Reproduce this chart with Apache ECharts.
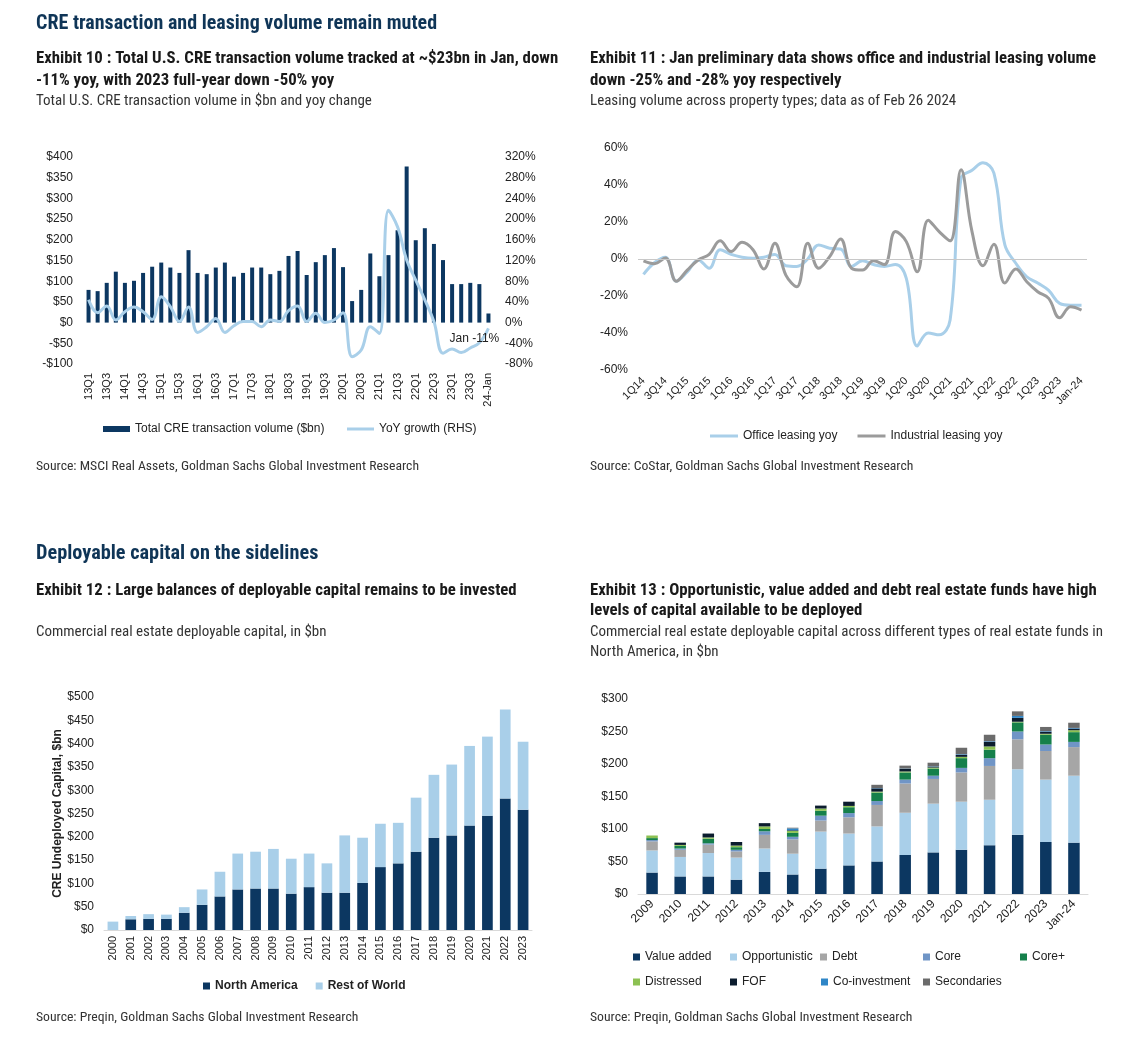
<!DOCTYPE html>
<html><head><meta charset="utf-8">
<script src="https://cdn.jsdelivr.net/npm/echarts@6/dist/echarts.min.js"></script>
<style>html,body{margin:0;padding:0;background:#fff}#c{width:1126px;height:1052px}</style>
</head><body><div id="c"></div><script>
// ---------- Exhibit 10 ----------
var cats10 = ['13Q1','13Q2','13Q3','13Q4','14Q1','14Q2','14Q3','14Q4','15Q1','15Q2','15Q3','15Q4','16Q1','16Q2','16Q3','16Q4','17Q1','17Q2','17Q3','17Q4','18Q1','18Q2','18Q3','18Q4','19Q1','19Q2','19Q3','19Q4','20Q1','20Q2','20Q3','20Q4','21Q1','21Q2','21Q3','21Q4','22Q1','22Q2','22Q3','22Q4','23Q1','23Q2','23Q3','23Q4','24-Jan'];
var volume10 = [79,76,96,123,96,101,120,135,145,133,120,175,120,117,133,145,111,120,133,133,117,125,161,173,115,146,163,180,134,52,79,167,112,163,223,377,199,228,190,151,93,93,96,93,22];
var yoy10 = [44,19,32,5,21,30,21,6,50,31,2,30,-19,-8,8,-19,-6,2,2,-8,5,2,23,32,2,18,0,5,19,-66,-53,-8,-21,217,185,121,82,44,2,-59,-51,-58,-49,-39,-11];

// ---------- Exhibit 11 ----------
var cats11 = ['1Q14','2Q14','3Q14','4Q14','1Q15','2Q15','3Q15','4Q15','1Q16','2Q16','3Q16','4Q16','1Q17','2Q17','3Q17','4Q17','1Q18','2Q18','3Q18','4Q18','1Q19','2Q19','3Q19','4Q19','1Q20','2Q20','3Q20','4Q20','1Q21','2Q21','3Q21','4Q21','1Q22','2Q22','3Q22','4Q22','1Q23','2Q23','3Q23','4Q23','Jan-24'];
var office11 = [-8.3,-2,1,-12,-7,-0.5,-5,5,2.5,1,0.4,1,2.5,-3.6,-4,0,7.6,5.8,5.4,-4,-1,-3,-4,-3,-10.5,-47,-40,-41,-33,43.7,48,52,46.4,7.6,-2.3,-9.6,-13,-17,-24,-25,-25];
var industrial11 = [-1,-2.5,0.5,-12,-6,-0.5,2.5,9.8,4,9,5,-5.4,8.5,-8.7,-15,8.5,-5,1.3,10.8,-5,-6,-1,-3,14.8,9.4,-6.9,21,14.8,9.8,48.3,14.8,-3.6,8,-13,-5.4,-12.3,-17.7,-21.3,-31.8,-25.8,-27.6];

// ---------- Exhibit 12 ----------
var years12 = ['2000','2001','2002','2003','2004','2005','2006','2007','2008','2009','2010','2011','2012','2013','2014','2015','2016','2017','2018','2019','2020','2021','2022','2023'];
var northAmerica12 = [0,23,24,24,37,54,72,87,89,89,78,92,80,80,101,135,143,168,198,203,224,245,282,258];
var restOfWorld12 = [18,7,10,9,12,33,53,77,79,85,75,72,63,123,97,93,87,116,135,152,171,170,191,146];

// ---------- Exhibit 13 ----------
var cats13 = ['2009','2010','2011','2012','2013','2014','2015','2016','2017','2018','2019','2020','2021','2022','2023','Jan-24'];
var valueAdded13 = [33,27,27,22,34,30,39,44,50,60,64,68,75,91,80,79];
var opportunistic13 = [34,30,36,34,36,32,57,49,54,65,75,74,70,101,96,103];
var debt13 = [14,11,13,9.5,21,22,17,25,33,45,38,45,52,46,44,44];
var core13 = [2,2,2,2.5,5.5,4,7.5,6.5,6,6,5,7,12,12,10,8];
var corePlus13 = [3,4,7,4,3.5,6,7.5,9,13,11,11,15,13,14,15,15];
var distressed13 = [4,1.5,2,2.5,4,3,3.5,2,1.5,1.5,1.5,2,5,1,1.5,3];
var fof13 = [0,3.5,6,5.5,5,1,4.5,6.5,5,4,1.5,3,7,6,3,2.5];
var coInvestment13 = [0,0,0,0,0,3,0,0,0.5,0.5,0.5,1,1,3,1,1];
var secondaries13 = [0,0,0,0,0,1,0,0,5,4.5,5.5,10,10,7,6.5,8];

var NAR = "'Liberation Sans Narrow','Roboto Condensed','DejaVu Sans Condensed',sans-serif";
var AX = "'Liberation Sans',Arial,sans-serif";
var NAVY = '#0c3761', LBLUE = '#a9cfe9', GRAY = '#9b9b9b';

function txt(x, base, s, fs, bold, color) {
  return {type:'text', x:x, y: base - 0.36*fs, silent:true,
    style:{text:s, fontFamily:NAR, fontSize:fs, fontWeight: bold?'bold':'normal', fill:color, verticalAlign:'middle', align:'left'}};
}
var H = '#0f3557', T = '#1a1a1a', S = '#333333';
var TB = 16.8, TS = 15, TSRC = 13.7;
var graphics = [
  txt(36,31,'CRE transaction and leasing volume remain muted',20,true,H),
  txt(36,65,'Exhibit 10 : Total U.S. CRE transaction volume tracked at ~$23bn in Jan, down',TB,true,T),
  txt(36,87,'-11% yoy, with 2023 full-year down -50% yoy',TB,true,T),
  txt(36,107,'Total U.S. CRE transaction volume in $bn and yoy change',TS,false,S),
  txt(590,65,'Exhibit 11 : Jan preliminary data shows office and industrial leasing volume',TB,true,T),
  txt(590,87,'down -25% and -28% yoy respectively',TB,true,T),
  txt(590,107,'Leasing volume across property types; data as of Feb 26 2024',TS,false,S),
  txt(36,472,'Source: MSCI Real Assets, Goldman Sachs Global Investment Research',TSRC,false,S),
  txt(590,472,'Source: CoStar, Goldman Sachs Global Investment Research',TSRC,false,S),
  txt(36,561,'Deployable capital on the sidelines',20.3,true,H),
  txt(36,597,'Exhibit 12 : Large balances of deployable capital remains to be invested',TB,true,T),
  txt(36,638,'Commercial real estate deployable capital, in $bn',TS,false,S),
  txt(590,597,'Exhibit 13 : Opportunistic, value added and debt real estate funds have high',TB,true,T),
  txt(590,617,'levels of capital available to be deployed',TB,true,T),
  txt(590,638,'Commercial real estate deployable capital across different types of real estate funds in',TS,false,S),
  txt(590,658,'North America, in $bn',TS,false,S),
  txt(36,1023,'Source: Preqin, Goldman Sachs Global Investment Research',TSRC,false,S),
  txt(590,1023,'Source: Preqin, Goldman Sachs Global Investment Research',TSRC,false,S)
];

var lab = {fontFamily:AX, fontSize:12, color:'#222'};
var legText = {fontFamily:AX, fontSize:12, color:'#222'};
function dollar(v){ return v<0 ? '-$'+Math.abs(v) : '$'+v; }

var s13 = [
  ['Value added', valueAdded13, NAVY],
  ['Opportunistic', opportunistic13, LBLUE],
  ['Debt', debt13, '#a6a6a6'],
  ['Core', core13, '#7095c6'],
  ['Core+', corePlus13, '#15804b'],
  ['Distressed', distressed13, '#8cc152'],
  ['FOF', fof13, '#0b1c2e'],
  ['Co-investment', coInvestment13, '#2f86c7'],
  ['Secondaries', secondaries13, '#6b6b6b']
];
var legPos13 = [[628,946],[725,946],[815,946],[918,946],[1015,946],[628,971],[725,971],[816,971],[918,971]];

var legends = [
  {data:[{name:'Total CRE transaction volume ($bn)', icon:'rect'}],
   left:98, top:418, itemWidth:27, itemHeight:6, textStyle:legText},
  {data:[{name:'YoY growth (RHS)', icon:'rect'}],
   left:342, top:418, itemWidth:27, itemHeight:3, textStyle:legText},
  {data:[{name:'Office leasing yoy',icon:'rect'},{name:'Industrial leasing yoy',icon:'rect'}], left:705, top:425, itemWidth:28, itemHeight:3, itemGap:20,
   textStyle:legText},
  {data:[{name:'North America',icon:'rect'},{name:'Rest of World',icon:'rect'}], left:198, top:975, itemWidth:7, itemHeight:7, itemGap:18,
   textStyle:{fontFamily:AX,fontSize:12,color:'#222',fontWeight:'bold'}}
];
s13.forEach(function(s,i){
  legends.push({data:[{name:s[0],icon:'rect'}], left:legPos13[i][0], top:legPos13[i][1], itemWidth:7, itemHeight:7,
    textStyle:legText});
});

var series = [
  {type:'bar', name:'Total CRE transaction volume ($bn)', xAxisIndex:0, yAxisIndex:0, data:volume10, barWidth:4, itemStyle:{color:NAVY}},
  {type:'line', name:'YoY growth (RHS)', xAxisIndex:0, yAxisIndex:1, data:yoy10, smooth:0.4, symbol:'none',
   lineStyle:{width:3, color:LBLUE}, itemStyle:{color:LBLUE},
   endLabel:{show:true, formatter:'Jan -11%', offset:[-47,10], fontFamily:AX, fontSize:12, color:'#222'}},
  {type:'line', name:'Office leasing yoy', xAxisIndex:1, yAxisIndex:2, data:office11, smooth:0.4, symbol:'none',
   lineStyle:{width:3, color:LBLUE}, itemStyle:{color:LBLUE},
   markLine:{silent:true, symbol:'none', label:{show:false}, lineStyle:{color:'#c8c8c8', width:1, type:'solid'}, data:[{yAxis:0}]}},
  {type:'line', name:'Industrial leasing yoy', xAxisIndex:1, yAxisIndex:2, data:industrial11, smooth:0.4, symbol:'none',
   lineStyle:{width:3, color:GRAY}, itemStyle:{color:GRAY}},
  {type:'bar', name:'North America', stack:'a', xAxisIndex:2, yAxisIndex:3, data:northAmerica12, barWidth:'60%', itemStyle:{color:NAVY}},
  {type:'bar', name:'Rest of World', stack:'a', xAxisIndex:2, yAxisIndex:3, data:restOfWorld12, barWidth:'60%', itemStyle:{color:LBLUE}}
];
s13.forEach(function(s){
  series.push({type:'bar', name:s[0], stack:'b', xAxisIndex:3, yAxisIndex:4, data:s[1], barWidth:11.5, itemStyle:{color:s[2]}});
});

var chart = echarts.init(document.getElementById('c'), null, {renderer:'canvas'});
chart.setOption({
  animation:false,
  backgroundColor:'#fff',
  graphic: graphics,
  legend: legends,
  grid:[
    {left:84, top:157, width:409, height:207},
    {left:638, top:148, width:449, height:222},
    {left:104, top:697, width:428, height:233},
    {left:638, top:699, width:450, height:195}
  ],
  xAxis:[
    {type:'category', gridIndex:0, data:cats10, axisLine:{show:false, onZero:false}, axisTick:{show:false},
     axisLabel:Object.assign({interval:1, rotate:90, margin:9}, lab, {fontSize:11})},
    {type:'category', gridIndex:1, data:cats11, boundaryGap:true, axisLine:{show:false, onZero:false}, axisTick:{show:false},
     axisLabel:Object.assign({interval:1, rotate:45, margin:9}, lab, {fontSize:11})},
    {type:'category', gridIndex:2, data:years12, axisLine:{show:true, lineStyle:{color:'#d9d9d9'}}, axisTick:{show:false},
     axisLabel:Object.assign({interval:0, rotate:90, margin:6}, lab, {fontSize:11})},
    {type:'category', gridIndex:3, data:cats13, axisLine:{show:true, lineStyle:{color:'#d9d9d9'}}, axisTick:{show:false},
     axisLabel:Object.assign({interval:0, rotate:45, margin:8}, lab)}
  ],
  yAxis:[
    {type:'value', gridIndex:0, min:-100, max:400, interval:50, splitLine:{show:false}, axisLine:{show:false}, axisTick:{show:false},
     axisLabel:Object.assign({formatter:dollar, margin:11}, lab)},
    {type:'value', gridIndex:0, position:'right', min:-80, max:320, interval:40, splitLine:{show:false}, axisLine:{show:false}, axisTick:{show:false},
     axisLabel:Object.assign({formatter:'{value}%', margin:12}, lab)},
    {type:'value', gridIndex:1, min:-60, max:60, interval:20, splitLine:{show:false}, axisLine:{show:false}, axisTick:{show:false},
     axisLabel:Object.assign({formatter:'{value}%', margin:10}, lab)},
    {type:'value', gridIndex:2, min:0, max:500, interval:50, splitLine:{show:false}, axisLine:{show:false}, axisTick:{show:false},
     axisLabel:Object.assign({formatter:dollar, margin:10}, lab),
     name:'CRE Undeployed Capital, $bn', nameLocation:'middle', nameGap:40,
     nameTextStyle:{fontFamily:AX, fontSize:12, fontWeight:'bold', color:'#222'}},
    {type:'value', gridIndex:3, min:0, max:300, interval:50, splitLine:{show:false}, axisLine:{show:false}, axisTick:{show:false},
     axisLabel:Object.assign({formatter:dollar, margin:10}, lab)}
  ],
  series: series
});
</script></body></html>
